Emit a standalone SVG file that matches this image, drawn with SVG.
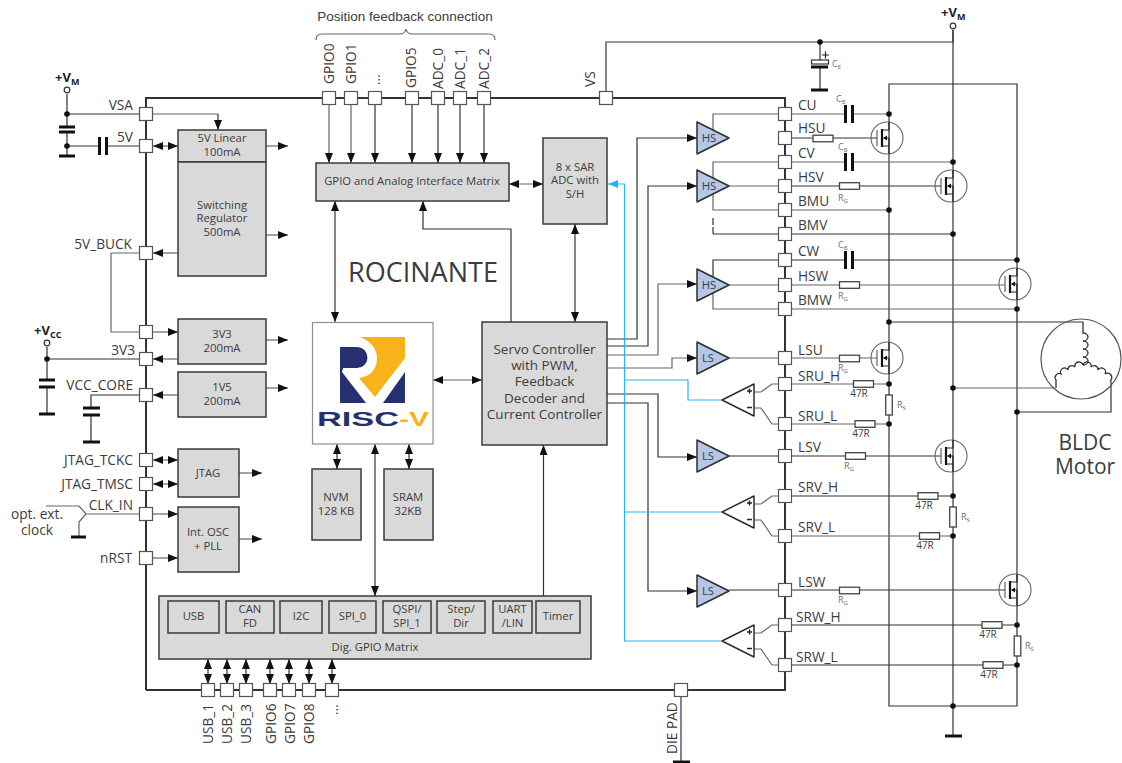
<svg xmlns="http://www.w3.org/2000/svg" width="1122" height="763" viewBox="0 0 1122 763">
<style>
text{font-family:"Open Sans","Noto Sans",sans-serif;fill:#3c3c3c}
.l{font-size:13.7px}
.le{font-size:13.7px;text-anchor:end}
.b{font-size:11.3px;text-anchor:middle}
.s{font-size:9px;fill:#707070}
.s tspan{font-size:6px}
.r{font-size:10px;text-anchor:middle}
.pw{font-size:13px;font-weight:bold;fill:#222}
.pw tspan{font-size:9px}
.box{fill:#d9d9d9;stroke:#3a3a3a;stroke-width:1.5}
.pin{fill:#fff;stroke:#555;stroke-width:1.2}
.tri{fill:#b4c7e7;stroke:#2e2e2e;stroke-width:1.5;stroke-linejoin:round}
.opa{fill:#fff;stroke:#2e2e2e;stroke-width:1.5;stroke-linejoin:round}
.w{fill:none;stroke:#333;stroke-width:1.2}
.g{fill:none;stroke:#666;stroke-width:1.2}
.rail{fill:none;stroke:#333;stroke-width:2}
.bl{fill:none;stroke:#25b5f2;stroke-width:1.2}
.a{marker-end:url(#ah)}
.aa{marker-start:url(#ah);marker-end:url(#ah)}
.d{fill:#111}
.th{stroke:#111;stroke-width:3;fill:none}
</style>
<defs>
<marker id="ah" markerUnits="userSpaceOnUse" markerWidth="10" markerHeight="8" refX="10" refY="4" orient="auto-start-reverse"><path d="M0,0L10,4L0,8z" fill="#111"/></marker>
<marker id="ahb" markerUnits="userSpaceOnUse" markerWidth="10" markerHeight="8" refX="10" refY="4" orient="auto"><path d="M0,0L10,4L0,8z" fill="#25b5f2"/></marker>
<rect id="p" class="pin" x="-6.5" y="-6.5" width="13" height="13"/>
<rect id="res" x="-10" y="-3.3" width="20" height="6.6" fill="#fff" stroke="#444" stroke-width="1.3"/>
<rect id="resv" x="-3.3" y="-10" width="6.6" height="20" fill="#fff" stroke="#444" stroke-width="1.3"/>
<g id="cs"><rect x="-3" y="-9" width="6" height="18" fill="#fff"/><path class="th" stroke-width="2.5" d="M-3.5-9V9M3.5-9V9"/></g>
<circle id="dot" class="d" r="2.8"/>
<g id="mos">
<circle r="16" fill="none" stroke="#666" stroke-width="1.1"/>
<path d="M-10-8V8" fill="none" stroke="#444" stroke-width="1"/>
<path d="M-5-9V9" fill="none" stroke="#111" stroke-width="2.2"/>
<path d="M-5-8H2V-16M-5 8H2V16M-3 0H2V8" fill="none" stroke="#222" stroke-width="1.2"/>
<path d="M-4 0L0-2.5V2.5z" fill="#111"/>
</g>
<g id="opamp">
<path class="opa" d="M-16 0L16-16V16z"/>
<path d="M9-9H14M11.5-11.500V-6.500M9 7.500H14" stroke="#222" stroke-width="1.4" fill="none"/>
</g>
</defs>

<g id="connectors">
<path class="rail" d="M146 690V98H785V690H146"/>
<path class="w" d="M67 94V127M67 132V156M67 114H140M67 146H140"/>
<path class="g" d="M152 114H218"/><path class="w a" d="M218 114V130"/>
<path class="g aa" d="M153 146H178"/>
<path class="g a" d="M266 146H288"/>
<path class="g a" d="M266 235H288"/>
<path class="g a" d="M178 253H153"/>
<path class="g" d="M140 253H111V332H140"/>
<path class="g a" d="M152 332H178"/>
<path class="g a" d="M178 359H153"/>
<path class="g a" d="M266 340H288"/>
<path class="w" d="M47 347V380M47 387V414M47 359H140"/>
<path class="g a" d="M178 395H153"/>
<path class="w" d="M140 395H91V408M91 415V442"/>
<path class="g a" d="M266 388H288"/>
<path class="g aa" d="M153 460H178"/>
<path class="g aa" d="M153 484H178"/>
<path class="g a" d="M239 473H262"/>
<path class="g a" d="M153 514H178"/>
<path class="g a" d="M153 558H178"/>
<path class="g a" d="M239 539H262"/>
<path class="g" d="M46 506H79L86 514H140M86 514L79 522V537"/>
<path class="g" d="M316 40Q316 34 322 34H400Q405 34 406 29Q407 34 412 34H489Q495 34 495 40"/>
<path class="g a" d="M329 104V163"/>
<path class="g a" d="M351 104V163"/>
<path class="w a" d="M375 104V163"/>
<path class="w a" d="M412 104V163"/>
<path class="w a" d="M438 104V163"/>
<path class="w a" d="M460 104V163"/>
<path class="w a" d="M484 104V163"/>
<path class="g aa" d="M509 184H543"/>
<path class="w aa" d="M335 201V322"/>
<path class="w a" d="M511 322V229H423V201"/>
<path class="w aa" d="M575 224V322"/>
<path class="w" d="M606 92V42H953V30"/>
<path class="w" d="M953 30V736"/>
<path class="w" d="M820 42V60M820 67V90"/>
<path class="w" d="M889 114V84H1017V706H889V114"/>
<path class="g aa" d="M433 380H482"/>
<path class="w aa" d="M337 444V469"/>
<path class="w aa" d="M409 444V469"/>
<path class="w aa" d="M375 444V596"/>
<path class="w a" d="M543.500 596V445"/>
<path class="w aa" d="M208 659V684"/>
<path class="w aa" d="M227 659V684"/>
<path class="w aa" d="M246 659V684"/>
<path class="w aa" d="M270 659V684"/>
<path class="w aa" d="M289 659V684"/>
<path class="w aa" d="M309 659V684"/>
<path class="w aa" d="M332 659V684"/>
<path class="w" d="M681 696V763"/>
<path class="w a" d="M607 339H637V138H697"/>
<path class="w a" d="M607 346H648V186H697"/>
<path class="g a" d="M607 355H658V284H697"/>
<path class="g a" d="M607 368H672V358H697"/>
<path class="w a" d="M607 394H658V457H697"/>
<path class="w a" d="M607 403H648V591H697"/>
<path class="bl" d="M624.500 641V184H608" marker-end="url(#ahb)"/>
<path class="bl" d="M624.500 380H688V400H722"/>
<path class="bl" d="M624.500 512H721"/>
<path class="bl" d="M624 641H721"/>
<path class="g" d="M713 130V114H779"/>
<path class="g" d="M713 178V162H779"/>
<path class="g" d="M713 194V210H779"/>
<path class="w" stroke-dasharray="7 2" d="M713 218V234"/>
<path class="w" d="M713 234H779"/>
<path class="g" d="M729 186H779"/>
<path class="w" d="M713 277V260H779"/>
<path class="g" d="M713 293V309H779"/>
<path class="g" d="M729 285H779"/>
<path class="g" d="M729 358H779"/>
<path class="w" d="M729 456H779"/>
<path class="w" d="M729 590H779"/>
<path class="g" d="M754 392H761L772 384H779M754 408H761L772 424H779"/>
<path class="g" d="M754 504H761L772 496H779M754 520H761L772 536H779"/>
<path class="g" d="M754 633H761L772 625H779M754 649H761L772 665H779"/>
<path class="g" d="M791 114H889"/>
<path class="w" d="M791 138H877"/>
<path class="g" d="M791 162H953"/>
<path class="w" d="M791 186H941"/>
<path class="g" d="M791 210H889"/>
<path class="w" d="M791 234H953"/>
<path class="w" d="M791 260H1017"/>
<path class="g" d="M791 285H1005"/>
<path class="g" d="M791 309H1017"/>
<path class="g" d="M791 358H877"/>
<path class="g" d="M791 384H889"/>
<path class="g" d="M791 424H889"/>
<path class="w" d="M791 456H941"/>
<path class="w" d="M791 496H953"/>
<path class="g" d="M791 536H953"/>
<path class="w" d="M791 590H1005"/>
<path class="w" d="M791 625H1017"/>
<path class="w" d="M791 665H1017"/>
<path class="w" d="M889 322H1083"/>
<path class="g" d="M953 388H1055"/>
<path class="w" d="M1017 412H1111V381"/>
</g>

<g id="node-supply-left">
<circle cx="67" cy="90" r="2.800" fill="#fff" stroke="#333" stroke-width="1.200"/>
<text class="pw" x="55" y="82">+V<tspan dy="3">M</tspan></text>
<path class="th" d="M59 127H75M59 132H75M59 156H75"/>
<use href="#dot" x="67" y="114"/><use href="#dot" x="67" y="146"/>
<use href="#cs" x="103" y="146"/>
<circle cx="47" cy="343" r="2.800" fill="#fff" stroke="#333" stroke-width="1.200"/>
<text class="pw" x="34" y="335">+V<tspan dy="3">CC</tspan></text>
<path class="th" d="M39 380H55M39 387H55M39 414H55"/>
<use href="#dot" x="47" y="359"/>
<path class="th" d="M83 408H100M83 415H100M83 442H100"/>
<path class="th" d="M71 537H86"/>
<text class="l" x="37" y="519" text-anchor="middle">opt. ext.</text>
<text class="l" x="37" y="535" text-anchor="middle">clock</text>
</g>

<g id="pins">
<use href="#p" x="146" y="114"/><use href="#p" x="146" y="146"/><use href="#p" x="146" y="253"/><use href="#p" x="146" y="332"/><use href="#p" x="146" y="359"/><use href="#p" x="146" y="395"/><use href="#p" x="146" y="460"/><use href="#p" x="146" y="484"/><use href="#p" x="146" y="514"/><use href="#p" x="146" y="558"/>
<use href="#p" x="329" y="98"/><use href="#p" x="351" y="98"/><use href="#p" x="375" y="98"/><use href="#p" x="412" y="98"/><use href="#p" x="438" y="98"/><use href="#p" x="460" y="98"/><use href="#p" x="484" y="98"/><use href="#p" x="606" y="98"/>
<use href="#p" x="208" y="690"/><use href="#p" x="227" y="690"/><use href="#p" x="246" y="690"/><use href="#p" x="270" y="690"/><use href="#p" x="289" y="690"/><use href="#p" x="309" y="690"/><use href="#p" x="332" y="690"/><use href="#p" x="681" y="690"/>
<use href="#p" x="785" y="114"/><use href="#p" x="785" y="138"/><use href="#p" x="785" y="162"/><use href="#p" x="785" y="186"/><use href="#p" x="785" y="210"/><use href="#p" x="785" y="234"/><use href="#p" x="785" y="260"/><use href="#p" x="785" y="285"/><use href="#p" x="785" y="309"/><use href="#p" x="785" y="358"/><use href="#p" x="785" y="384"/><use href="#p" x="785" y="424"/><use href="#p" x="785" y="456"/><use href="#p" x="785" y="496"/><use href="#p" x="785" y="536"/><use href="#p" x="785" y="590"/><use href="#p" x="785" y="625"/><use href="#p" x="785" y="665"/>
</g>

<g id="pin-labels">
<text class="le" x="133" y="110">VSA</text><text class="le" x="133" y="142">5V</text><text class="le" x="132" y="249">5V_BUCK</text><text class="le" x="135" y="355">3V3</text><text class="le" x="133" y="390">VCC_CORE</text><text class="le" x="133" y="465">JTAG_TCKC</text><text class="le" x="133" y="489">JTAG_TMSC</text><text class="le" x="133" y="510">CLK_IN</text><text class="le" x="132" y="563">nRST</text>
<text class="l" transform="translate(334 84) rotate(-90)">GPIO0</text><text class="l" transform="translate(356 84) rotate(-90)">GPIO1</text><text class="l" transform="translate(380 85) rotate(-90)">...</text><text class="l" transform="translate(416 88) rotate(-90)">GPIO5</text><text class="l" transform="translate(443 89) rotate(-90)">ADC_0</text><text class="l" transform="translate(465 89) rotate(-90)">ADC_1</text><text class="l" transform="translate(489 89) rotate(-90)">ADC_2</text><text class="l" transform="translate(595 87) rotate(-90)">VS</text>
<text class="l" transform="translate(213 744) rotate(-90)">USB_1</text><text class="l" transform="translate(232 744) rotate(-90)">USB_2</text><text class="l" transform="translate(251 744) rotate(-90)">USB_3</text><text class="l" transform="translate(276 744) rotate(-90)">GPIO6</text><text class="l" transform="translate(295 744) rotate(-90)">GPIO7</text><text class="l" transform="translate(314 744) rotate(-90)">GPIO8</text><text class="l" transform="translate(338 715) rotate(-90)">...</text><text class="l" transform="translate(677 754) rotate(-90)">DIE PAD</text>
<text class="l" x="798" y="110">CU</text><text class="l" x="798" y="133">HSU</text><text class="l" x="798" y="158">CV</text><text class="l" x="798" y="182">HSV</text><text class="l" x="798" y="206">BMU</text><text class="l" x="798" y="230">BMV</text><text class="l" x="798" y="256">CW</text><text class="l" x="798" y="281">HSW</text><text class="l" x="798" y="305">BMW</text><text class="l" x="798" y="355">LSU</text><text class="l" x="798" y="381">SRU_H</text><text class="l" x="798" y="421">SRU_L</text><text class="l" x="798" y="452">LSV</text><text class="l" x="798" y="492">SRV_H</text><text class="l" x="798" y="532">SRV_L</text><text class="l" x="798" y="587">LSW</text><text class="l" x="796" y="622">SRW_H</text><text class="l" x="796" y="662">SRW_L</text>
<text x="405" y="21" text-anchor="middle" style="font-family:'Liberation Sans',Arial,sans-serif;font-size:13.5px">Position feedback connection</text>
<text x="423" y="282" text-anchor="middle" style="font-size:27px">ROCINANTE</text>
</g>

<g id="node-5v-reg"><rect class="box" x="178" y="130" width="88" height="32"/><rect class="box" x="178" y="162" width="88" height="114"/><text class="b" x="222" y="142">5V Linear</text><text class="b" x="222" y="156">100mA</text><text class="b" x="222" y="209">Switching</text><text class="b" x="222" y="222">Regulator</text><text class="b" x="222" y="236">500mA</text></g>
<g id="node-3v3"><rect class="box" x="178" y="319" width="88" height="45"/><text class="b" x="222" y="338">3V3</text><text class="b" x="222" y="352">200mA</text></g>
<g id="node-1v5"><rect class="box" x="178" y="372" width="88" height="45"/><text class="b" x="222" y="391">1V5</text><text class="b" x="222" y="405">200mA</text></g>
<g id="node-jtag"><rect class="box" x="178" y="449" width="61" height="48"/><text class="b" x="208" y="477">JTAG</text></g>
<g id="node-osc"><rect class="box" x="178" y="507" width="61" height="65"/><text class="b" x="208" y="536">Int. OSC</text><text class="b" x="208" y="550">+ PLL</text></g>
<g id="node-gpio-analog"><rect class="box" x="316" y="163" width="193" height="38"/><text class="b" x="412" y="185">GPIO and Analog Interface Matrix</text></g>
<g id="node-adc"><rect class="box" x="543" y="138" width="64" height="86"/><text class="b" x="575" y="171">8 x SAR</text><text class="b" x="575" y="184">ADC with</text><text class="b" x="575" y="198">S/H</text></g>
<g id="node-riscv"><rect x="312.500" y="322.500" width="120.500" height="121.500" fill="#fff" stroke="#8a9299" stroke-width="1.200"/>
<path fill="#27306f" d="M340 347H357A10.500 10.500 0 0 1 357 368H343L342 372L366 403H340ZM405 372V403H383Z"/>
<path fill="#f9b21a" d="M360 337H405V358L375 397L359 378C372 376 377 368 377 358C377 348 370 341 360 337Z"/>
<text x="317" y="426" textLength="82" lengthAdjust="spacingAndGlyphs" style="font-family:'Liberation Sans',sans-serif;font-weight:bold;font-size:20px;fill:#27306f">RISC</text>
<text x="399" y="426" textLength="30" lengthAdjust="spacingAndGlyphs" style="font-family:'Liberation Sans',sans-serif;font-weight:bold;font-size:20px;fill:#f9b21a">-V</text></g>
<g id="node-servo"><rect class="box" x="482" y="322" width="125" height="123"/><text class="b" style="font-size:13.5px" x="544.500" y="354">Servo Controller</text><text class="b" style="font-size:13.5px" x="544.500" y="370">with PWM,</text><text class="b" style="font-size:13.5px" x="544.500" y="386">Feedback</text><text class="b" style="font-size:13.5px" x="544.500" y="403">Decoder and</text><text class="b" style="font-size:13.5px" x="544.500" y="419">Current Controller</text></g>
<g id="node-nvm"><rect class="box" x="312" y="469" width="49" height="71"/><text class="b" x="336" y="501">NVM</text><text class="b" x="336" y="515">128 KB</text></g>
<g id="node-sram"><rect class="box" x="384" y="469" width="49" height="71"/><text class="b" x="408" y="501">SRAM</text><text class="b" x="408" y="515">32KB</text></g>
<g id="node-dig-matrix"><rect class="box" x="159" y="596" width="432" height="63"/>
<rect class="box" x="168" y="601" width="51" height="32"/><rect class="box" x="226" y="601" width="48" height="32"/><rect class="box" x="280" y="601" width="42" height="32"/><rect class="box" x="329" y="601" width="47" height="32"/><rect class="box" x="383" y="601" width="48" height="32"/><rect class="box" x="437" y="601" width="48" height="32"/><rect class="box" x="493" y="601" width="39" height="32"/><rect class="box" x="536" y="601" width="44" height="32"/>
<text class="b" x="193.500" y="620">USB</text><text class="b" x="250" y="613">CAN</text><text class="b" x="250" y="627">FD</text><text class="b" x="301" y="620">I2C</text><text class="b" x="352.500" y="620">SPI_0</text><text class="b" x="407" y="613">QSPI/</text><text class="b" x="407" y="627">SPI_1</text><text class="b" x="461" y="613">Step/</text><text class="b" x="461" y="627">Dir</text><text class="b" x="512.500" y="613">UART</text><text class="b" x="512.500" y="627">/LIN</text><text class="b" x="558" y="620">Timer</text><text class="b" x="375" y="651">Dig. GPIO Matrix</text></g>

<g id="node-hs-u"><path class="tri" d="M697 122L729 138L697 154Z"/><text class="b" x="709" y="142">HS</text></g>
<g id="node-hs-v"><path class="tri" d="M697 170L729 186L697 202Z"/><text class="b" x="709" y="190">HS</text></g>
<g id="node-hs-w"><path class="tri" d="M697 269L729 285L697 301Z"/><text class="b" x="709" y="289">HS</text></g>
<g id="node-ls-u"><path class="tri" d="M697 342L729 358L697 374Z"/><text class="b" x="708" y="362">LS</text></g>
<g id="node-ls-v"><path class="tri" d="M697 440L729 456L697 472Z"/><text class="b" x="708" y="460">LS</text></g>
<g id="node-ls-w"><path class="tri" d="M697 575L729 591L697 607Z"/><text class="b" x="708" y="595">LS</text></g>
<g id="node-sense-u"><use href="#opamp" x="738" y="400"/></g>
<g id="node-sense-v"><use href="#opamp" x="738" y="512"/></g>
<g id="node-sense-w"><use href="#opamp" x="738" y="641"/></g>

<g id="node-ce"><rect x="811.500" y="60" width="17" height="4" fill="#fff" stroke="#333" stroke-width="1.200"/><path class="th" d="M811 67H828M811 90H828"/><path d="M822 55H829M825.500 51.500V58.500" stroke="#222" stroke-width="1.200" fill="none"/><use href="#dot" x="820" y="42"/><text class="s" x="832" y="67">C<tspan dy="2">E</tspan></text></g>
<g id="node-vm-top"><circle cx="953" cy="26" r="2.800" fill="#fff" stroke="#333" stroke-width="1.200"/><text class="pw" x="941" y="17">+V<tspan dy="3">M</tspan></text></g>

<g id="node-passives">
<use href="#cs" x="849" y="114"/><use href="#cs" x="849" y="162"/><use href="#cs" x="849" y="260"/>
<text class="s" x="836" y="102">C<tspan dy="2">B</tspan></text><text class="s" x="838" y="150">C<tspan dy="2">B</tspan></text><text class="s" x="838" y="248">C<tspan dy="2">B</tspan></text>
<use href="#res" x="823" y="138.500"/><use href="#res" x="849.500" y="186"/><use href="#res" x="849.500" y="285"/><use href="#res" x="849.500" y="358.500"/><use href="#res" x="855.500" y="456"/><use href="#res" x="849.500" y="590.500"/>
<text class="s" x="838" y="201">R<tspan dy="2">G</tspan></text><text class="s" x="838" y="299">R<tspan dy="2">G</tspan></text><text class="s" x="838" y="371">R<tspan dy="2">G</tspan></text><text class="s" x="844" y="469">R<tspan dy="2">G</tspan></text><text class="s" x="838" y="603">R<tspan dy="2">G</tspan></text>
<use href="#res" x="863.500" y="384"/><use href="#res" x="865" y="424"/><use href="#res" x="928" y="496"/><use href="#res" x="929.500" y="536"/><use href="#res" x="992" y="625"/><use href="#res" x="993" y="665"/>
<text class="r" x="859" y="397">47R</text><text class="r" x="861" y="437">47R</text><text class="r" x="924" y="509">47R</text><text class="r" x="925" y="549">47R</text><text class="r" x="988" y="638">47R</text><text class="r" x="989" y="678">47R</text>
<use href="#resv" x="889" y="405"/><use href="#resv" x="953" y="517"/><use href="#resv" x="1017.500" y="646"/>
<text class="s" x="897" y="408">R<tspan dy="2">S</tspan></text><text class="s" x="961" y="520">R<tspan dy="2">S</tspan></text><text class="s" x="1025" y="649">R<tspan dy="2">S</tspan></text>
<use href="#dot" x="889" y="114"/><use href="#dot" x="953" y="162"/><use href="#dot" x="889" y="210"/><use href="#dot" x="953" y="234"/><use href="#dot" x="1017" y="260"/><use href="#dot" x="1017" y="309"/><use href="#dot" x="889" y="322"/><use href="#dot" x="889" y="384"/><use href="#dot" x="889" y="424"/><use href="#dot" x="953" y="388"/><use href="#dot" x="1017" y="412"/><use href="#dot" x="953" y="496"/><use href="#dot" x="953" y="536"/><use href="#dot" x="1017" y="625"/><use href="#dot" x="1017" y="665"/><use href="#dot" x="953" y="706"/>
<path class="th" d="M945 736H962M673 762H690"/>
</g>
<g id="node-mosfets">
<use href="#mos" x="887" y="138"/><use href="#mos" x="951" y="186"/><use href="#mos" x="1015" y="284"/><use href="#mos" x="887" y="358"/><use href="#mos" x="951" y="456"/><use href="#mos" x="1015" y="590"/>
</g>
<g id="node-motor">
<circle cx="1081" cy="359" r="40" fill="none" stroke="#555" stroke-width="1.200"/>
<path fill="none" stroke="#333" stroke-width="1.300" d="M1083 322V333A5 4 0 0 1 1083 341A5 4 0 0 1 1083 349A5 4 0 0 1 1083 357A5 4 0 0 1 1083 365"/>
<path fill="none" stroke="#333" stroke-width="1.300" d="M1083 365A4 4 0 0 0 1075 367A4 4 0 0 0 1068 370A4 4 0 0 0 1061 374A4 4 0 0 0 1056 380V388"/>
<path fill="none" stroke="#333" stroke-width="1.300" d="M1083 365A4 4 0 0 1 1091 367A4 4 0 0 1 1098 370A4 4 0 0 1 1105 374A4 4 0 0 1 1110 381"/>
<text text-anchor="middle" style="font-size:21px"><tspan x="1085" y="450">BLDC</tspan><tspan x="1085" y="474">Motor</tspan></text>
</g>
</svg>
